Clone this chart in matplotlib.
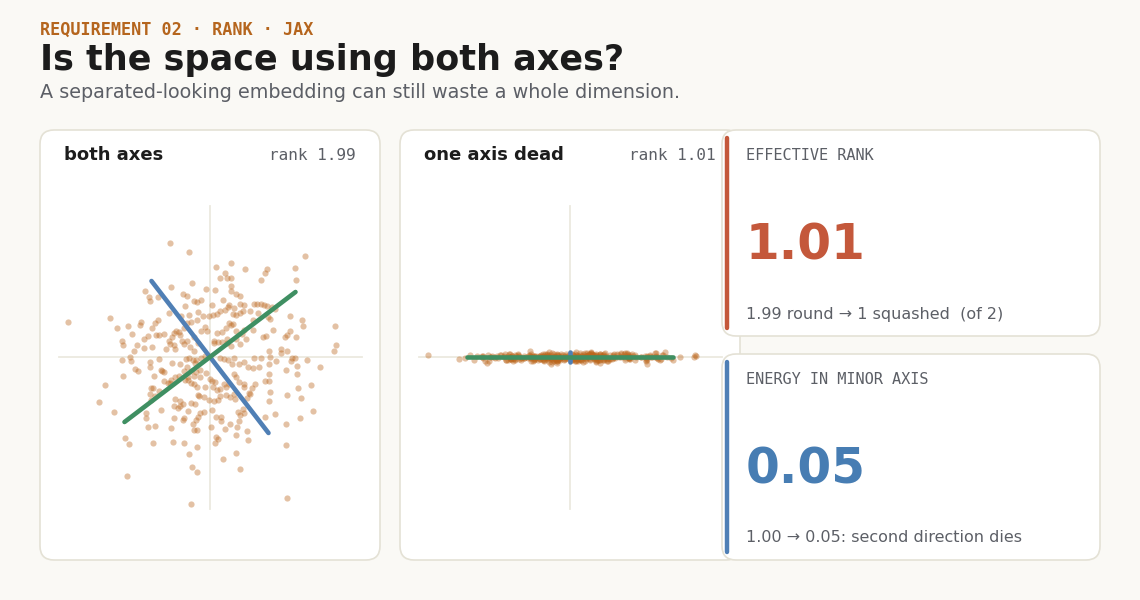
import matplotlib
matplotlib.use("Agg")
import matplotlib.pyplot as plt
from matplotlib.patches import FancyBboxPatch
import numpy as np

# Colours
BG = "#faf9f5"
CARD = "#ffffff"
BORDER = "#e4e1d5"
GUIDE = "#ece9df"
DOT = "#bb661c"
GREEN = "#3f8f62"
BLUE = "#4f7fb5"
RED = "#c4583b"
VAL_BLUE = "#477db3"
KICKER = "#b5651d"
INK = "#1c1c1c"
MUTED = "#5c5f66"
MONO = "DejaVu Sans Mono"

points_x = [
    -0.80, -0.42, 1.90, 0.12, 0.41, 0.69, 1.13, 1.09, 1.70, 1.72,
    1.02, 0.29, 0.20, 0.33, 0.41, -1.31, -0.36, -0.78, 0.09, -0.08,
    0.41, 0.41, 0.52, 0.60, -0.55, -0.47, -0.33, -0.27, -0.19, -1.20,
    -1.23, -1.05, 0.04, 0.25, 0.37, 0.47, 0.59, 0.67, 0.88, 0.94,
    1.02, 1.07, 1.13, 1.23, 1.29, 0.80, 0.95, -0.51, -0.42, -0.82,
    -0.58, -0.25, -0.15, -0.03, 0.05, 0.14, 0.20, 0.29, 0.35, 0.45,
    0.51, 0.60, 0.65, 1.15, 1.20, 1.59, 1.84, 1.86, 1.72, 1.59,
    1.54, 1.50, 1.25, 1.05, 1.12, 0.85, 0.85, 0.68, 0.52, 0.42,
    0.37, 0.45, 0.31, 0.23, 0.14, 0.07, 0.07, 0.15, 0.24, 0.33,
    0.42, 0.60, 0.71, 0.63, 0.52, 0.33, -0.10, -0.07, -0.19, -0.27,
    -0.38, -0.47, -0.53, -0.63, -0.61, -0.57, -0.52, -0.47, -0.73, -0.68,
    -0.77, -0.83, -0.81, -0.73, -0.70, -0.88, -1.05, -1.10, -1.17, -1.08,
    -0.93, -1.03, -1.25, -1.33, -1.39, -1.41, -1.57, -1.64, -1.86, -2.01,
    -2.85, -1.77, -1.75, -1.77, -1.60, -1.58, -1.47, -1.52, -1.33, -1.16,
    -0.32, -0.25, -0.33, -0.41,
    -0.49, -0.42, -0.35, -0.29, -0.31, -0.19, -0.10, 0.20, 0.27, 0.35,
    0.47, 0.44, 0.58, 0.67, 0.75, 0.85, 0.87, 0.97, 1.02, 1.17,
    1.19, 1.18, 1.31, 1.41, 1.42, 1.53, 1.64, 1.69, 1.62, 1.73,
    1.73, 1.51, 1.93, 2.19, 2.48, 2.51, 2.50, 2.01, 1.75, 1.81,
    1.53, 2.05, 1.79, 1.51, 1.51, 1.54, 1.29, 1.09, 1.17, 1.19,
    1.10, 1.17, 1.17, 0.90, 0.83, 0.77, 0.80, 0.67, 0.67, 0.57,
    0.51, 0.47, 0.37, 0.28, 0.20, 0.13, 0.06, 0.03, 0.09, 0.00,
    -0.09, -0.20, -0.27, -0.32, -0.39, -0.44, -0.51, -0.52, -0.63, -0.70,
    -0.78, -0.85, -0.81, -0.93, -0.99, -0.93, -0.97, -1.13, -1.18, -1.15,
    -1.21, -1.19, -1.10, -1.02, -0.98, -1.29, -1.28, -1.25, -1.11, -1.15,
    -1.71, -1.63, -1.67, -2.23, -2.11, -1.92, -1.74, -1.51, -1.45, -1.03,
    -1.21, -1.20, -0.77, -0.61, -0.47, -0.38, -0.29, -0.20, -0.33, -0.45,
    -0.71, -0.61, -0.55, -0.73, -0.65, -0.61, -0.45, -0.38, -0.30, -0.25,
    -0.22, -0.13, -0.11, -0.03, 0.07, 0.15, 0.04, -0.13, -0.20, -0.25,
    -0.28, -0.35, -0.32, -0.27, -0.53, -0.55, -0.73, -0.78, -0.75, -0.53,
    -0.43, -0.37, -0.27, -0.26, -0.39, 0.01, 0.11, 0.21, 0.22, 0.12,
    0.15, 0.09, 0.25, 0.51, 0.59, 0.29, 0.40, 0.53, 0.58, 0.60,
    0.68, 0.65, 0.55, 0.51, 0.73, 0.76, 0.74, 0.49, 0.39, 0.31,
    0.20, 0.47, 0.32,
]
points_y = [
    2.29, 2.11, 2.03, 1.81, 1.88, 1.77, 1.77, 1.68, 1.79, 1.55,
    1.55, 1.69, 1.59, 1.59, 1.59, 1.33, 1.49, 1.40, 1.35, 1.36,
    1.43, 1.33, 1.26, 1.22, 1.26, 1.22, 1.13, 1.11, 1.14, 1.13,
    1.21, 1.20, 1.05, 1.14, 1.04, 0.99, 1.07, 1.05, 1.06, 1.07,
    1.06, 1.04, 1.03, 1.01, 0.97, 0.93, 0.89, 1.02, 0.85, 0.89,
    0.83, 0.90, 0.83, 0.83, 0.85, 0.86, 0.92, 0.95, 1.00, 0.87,
    0.85, 0.89, 0.93, 0.81, 0.76, 0.83, 0.74, 0.63, 0.41, 0.52,
    0.45, 0.40, 0.55, 0.41, 0.43, 0.75, 0.55, 0.55, 0.52, 0.65,
    0.68, 0.67, 0.59, 0.51, 0.49, 0.33, 0.29, 0.31, 0.31, 0.29,
    0.23, 0.26, 0.36, 0.46, 0.37, 0.37, 0.60, 0.53, 0.52, 0.75,
    0.70, 0.68, 0.58, 0.50, 0.45, 0.33, 0.26, 0.32, 0.49, 0.53,
    0.40, 0.33, 0.27, 0.25, 0.17, 0.17, 0.74, 0.69, 0.59, 0.45,
    0.47, 0.45, 0.43, 0.37, 0.71, 0.65, 0.46, 0.62, 0.59, 0.79,
    0.71, 0.33, 0.25, -0.05, 0.00, -0.07, 0.25, 0.13, 0.19, 0.21,
    0.13, 0.29, 0.40, 0.20,
    -0.04, -0.02, -0.05, -0.05, -0.11, -0.01, 0.02, -0.01, -0.03, -0.06,
    -0.02, -0.13, -0.13, -0.09, -0.20, -0.21, -0.02, -0.19, -0.01, 0.12,
    0.01, -0.13, -0.08, 0.16, 0.09, 0.13, -0.01, -0.01, -0.07, -0.17,
    -0.34, -0.25, -0.05, -0.19, 0.13, 0.25, 0.63, -0.56, -0.61, -0.82,
    -0.75, -1.07, -1.21, -1.33, -1.75, -2.81, -1.13, -1.19, -0.88, -0.69,
    -0.47, -0.47, -0.33, -0.53, -0.62, -0.71, -0.73, -0.60, -0.53, -0.49,
    -0.40, -0.33, -0.53, -0.53, -0.63, -0.65, -0.60, -0.47, -0.50, -0.43,
    -0.31, -0.39, -0.60, -0.53, -0.52, -0.46, -0.46, -0.27, -0.37, -0.40,
    -0.45, -0.51, -0.52, -0.48, -0.25, -0.29, -0.27, -0.38, -0.61, -0.62,
    -0.73, -0.85, -0.78, -0.67, -1.05, -1.21, -1.12, -1.39, -1.37, -1.71,
    -1.61, -1.74, -2.37, -0.89, -0.55, -1.09, -0.38, -0.23, -0.27, -0.04,
    -0.09, -0.19, -0.11, -0.13, -0.20, -0.27, -0.30, -0.25, -0.37, -0.39,
    -0.83, -0.88, -0.93, -0.98, -1.01, -0.97, -1.07, -0.92, -0.93, -0.76,
    -0.78, -0.80, -0.60, -0.85, -0.87, -0.85, -1.05, -1.09, -1.12, -1.19,
    -1.25, -1.33, -1.46, -1.45, -1.21, -1.25, -1.21, -1.41, -1.70, -1.71,
    -1.93, -2.19, -2.29, -1.79, -2.93, -1.39, -1.20, -1.19, -1.28, -1.59,
    -1.63, -1.71, -2.03, -1.92, -2.23, -1.44, -1.33, -1.39, -1.27, -1.15,
    -1.12, -1.03, -1.09, -1.55, -1.48, -1.65, -0.81, -0.83, -0.80, -0.75,
    -0.77, -0.73, -0.59,
]

# Second direction squashed down to this fraction in the "dead" panel
minor_scale = 0.05

# Principal axis half-vectors drawn through the origin
both_major = [1.71, 1.30]
both_minor = [-1.17, 1.52]
dead_major = [2.06, 0.0]
dead_minor = [0.0, 0.10]

panel_titles = ["both axes", "one axis dead"]
panel_ranks = ["rank 1.99", "rank 1.01"]

card_labels = ["EFFECTIVE RANK", "ENERGY IN MINOR AXIS"]
card_values = ["1.01", "0.05"]
card_notes = ["1.99 round \u2192 1 squashed  (of 2)", "1.00 \u2192 0.05: second direction dies"]
card_colors = [RED, VAL_BLUE]
card_bars = [RED, BLUE]

W, H = 1140, 600
fig = plt.figure(figsize=(W / 100, H / 100), dpi=100, facecolor=BG)

# Background layer in pixel coordinates (y down)
bg = fig.add_axes([0, 0, 1, 1])
bg.set_xlim(0, W)
bg.set_ylim(H, 0)
bg.axis("off")


def box(x0, y0, x1, y1, r=14):
    p = FancyBboxPatch((x0, y0), x1 - x0, y1 - y0,
                       boxstyle=f"round,pad=0,rounding_size={r}",
                       facecolor=CARD, edgecolor=BORDER, linewidth=1.2)
    bg.add_patch(p)


# Header
bg.text(40, 30, "REQUIREMENT 02 \u00b7 RANK \u00b7 JAX", fontsize=12.1, fontweight="bold",
        family=MONO, color=KICKER, va="center", ha="left")
bg.text(40, 60, "Is the space using both axes?", fontsize=25.2, fontweight="bold",
        color=INK, va="center", ha="left")
bg.text(40, 92, "A separated-looking embedding can still waste a whole dimension.",
        fontsize=13.8, color=MUTED, va="center", ha="left")

# Scatter panels
panel_x = [40, 400]
for i, px in enumerate(panel_x):
    box(px, 130, px + 340, 560)
    bg.text(px + 24, 155, panel_titles[i], fontsize=13, fontweight="bold",
            color=INK, va="center", ha="left")
    bg.text(px + 316, 155, panel_ranks[i], fontsize=11.5, family=MONO,
            color=MUTED, va="center", ha="right")

# Stat cards (drawn over the right edge of the middle panel)
card_y = [(130, 336), (354, 560)]
for i, (y0, y1) in enumerate(card_y):
    box(722, y0, 1100, y1)
    bg.plot([726.5, 726.5], [y0 + 8, y1 - 8], color=card_bars[i], lw=3.2,
            solid_capstyle="round")
    bg.text(746, y0 + 25, card_labels[i], fontsize=11, family=MONO,
            color=MUTED, va="center", ha="left")
    bg.text(746, y0 + 130, card_values[i], fontsize=35, fontweight="bold",
            color=card_colors[i], va="baseline", ha="left")
    bg.text(746, y0 + 184, card_notes[i], fontsize=11.5,
            color=MUTED, va="center", ha="left")

px_x = np.array(points_x)
px_y = np.array(points_y)
datasets = [
    (px_x, px_y, both_major, both_minor),
    (px_x, px_y * minor_scale, dead_major, dead_minor),
]
centers = [210, 570]
half = 160  # pixels, 50 px per unit
lim = 3.2
for (xs, ys, major, minor), cx in zip(datasets, centers):
    ax = fig.add_axes([(cx - half) / W, (H - 357 - half) / H, 2 * half / W, 2 * half / H])
    ax.set_xlim(-lim, lim)
    ax.set_ylim(-lim, lim)
    ax.axis("off")
    ax.patch.set_alpha(0)
    ax.plot([-3.03, 3.03], [0, 0], color=GUIDE, lw=1.3, zorder=1)
    ax.plot([0, 0], [-3.03, 3.03], color=GUIDE, lw=1.3, zorder=1)
    ax.scatter(xs, ys, s=20, color=DOT, alpha=0.4, linewidths=0, zorder=2)
    ax.plot([-minor[0], minor[0]], [-minor[1], minor[1]], color=BLUE, lw=3.3,
            solid_capstyle="round", zorder=3)
    ax.plot([-major[0], major[0]], [-major[1], major[1]], color=GREEN, lw=3.3,
            solid_capstyle="round", zorder=4)

fig.savefig("out.png", dpi=100, facecolor=BG)
